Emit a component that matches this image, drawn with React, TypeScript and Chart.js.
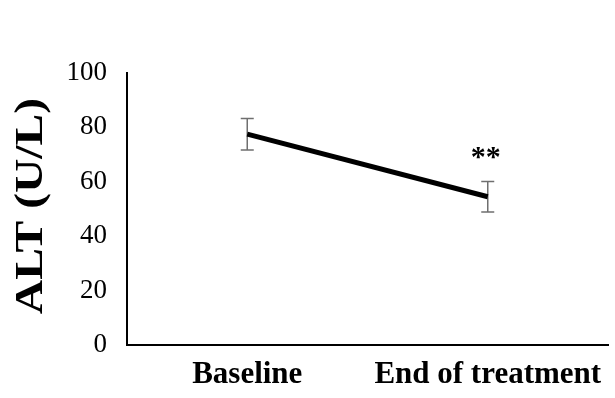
import React, { useEffect, useRef } from "react";
import { Chart, registerables } from "chart.js";

Chart.register(...registerables);

const categories = ["Baseline", "End of treatment"];
const altMeans = [77.5, 54.5];
const altErrors = [5.8, 5.6];
const significance = ["", "**"];
const yTitle = "ALT (U/L)";
const yMin = 0;
const yMax = 100;
const yStep = 20;

const SERIF = "'Liberation Serif', 'Times New Roman', serif";

const errorBarPlugin = {
  id: "errorBars",
  beforeDatasetsDraw(chart: any) {
    const { ctx, scales } = chart;
    const x = scales.x;
    const y = scales.y;
    ctx.save();
    ctx.strokeStyle = "#6f6f6f";
    ctx.lineWidth = 1.5;
    altMeans.forEach((v, i) => {
      const px = x.getPixelForValue(i);
      const top = y.getPixelForValue(v + altErrors[i]);
      const bot = y.getPixelForValue(v - altErrors[i]);
      const cap = 6.5;
      ctx.beginPath();
      ctx.moveTo(px, top);
      ctx.lineTo(px, bot);
      ctx.moveTo(px - cap, top);
      ctx.lineTo(px + cap, top);
      ctx.moveTo(px - cap, bot);
      ctx.lineTo(px + cap, bot);
      ctx.stroke();
    });
    ctx.restore();
  },
  afterDatasetsDraw(chart: any) {
    const { ctx, scales, chartArea } = chart;
    const x = scales.x;
    const y = scales.y;
    ctx.save();
    ctx.fillStyle = "#000";
    ctx.font = `bold 30px ${SERIF}`;
    ctx.textAlign = "center";
    ctx.textBaseline = "alphabetic";
    significance.forEach((s, i) => {
      if (!s) return;
      const px = x.getPixelForValue(i);
      const top = y.getPixelForValue(altMeans[i] + altErrors[i]);
      ctx.fillText(s, px - 2, top - 16);
    });
    ctx.restore();

    // y-axis title (slightly stretched along its length, as in the original figure)
    ctx.save();
    const cy = (chartArea.top + chartArea.bottom) / 2 - 3;
    ctx.translate(42, cy);
    ctx.rotate(-Math.PI / 2);
    ctx.scale(1.16, 1);
    ctx.fillStyle = "#000";
    ctx.font = `bold 41px ${SERIF}`;
    ctx.textAlign = "center";
    ctx.textBaseline = "alphabetic";
    ctx.fillText(yTitle, 0, 0);
    ctx.restore();
  },
};

export default function App() {
  const ref = useRef<HTMLCanvasElement | null>(null);

  useEffect(() => {
    if (!ref.current) return;
    const chart = new Chart(ref.current, {
      type: "line",
      data: {
        labels: categories,
        datasets: [
          {
            label: "ALT",
            data: altMeans,
            borderColor: "#000",
            borderWidth: 5,
            pointRadius: 0,
            tension: 0,
            fill: false,
          },
        ],
      },
      options: {
        animation: false,
        responsive: true,
        maintainAspectRatio: false,
        layout: { padding: { left: 0, right: 7, top: 73, bottom: 0 } },
        plugins: {
          legend: { display: false },
          tooltip: { enabled: false },
        },
        scales: {
          x: {
            type: "category",
            offset: true,
            grid: { display: false, drawTicks: false },
            border: { display: true, color: "#000", width: 2 },
            ticks: {
              color: "#000",
              padding: 11,
              maxRotation: 0,
              font: { family: SERIF, size: 31, weight: "bold" },
            },
            afterFit: (scale: any) => {
              scale.height = 53;
            },
          },
          y: {
            min: yMin,
            max: yMax,
            grid: { display: false, drawTicks: false },
            border: { display: true, color: "#000", width: 2 },
            ticks: {
              stepSize: yStep,
              color: "#000",
              padding: 20,
              font: { family: SERIF, size: 27 },
            },
            title: { display: false, text: yTitle },
            afterFit: (scale: any) => {
              scale.width = 127;
            },
          },
        },
      },
      plugins: [errorBarPlugin],
    });
    return () => chart.destroy();
  }, []);

  return (
    <div style={{ position: "absolute", left: 0, top: 0, width: 615, height: 398, background: "#fff" }}>
      <canvas ref={ref} />
    </div>
  );
}
